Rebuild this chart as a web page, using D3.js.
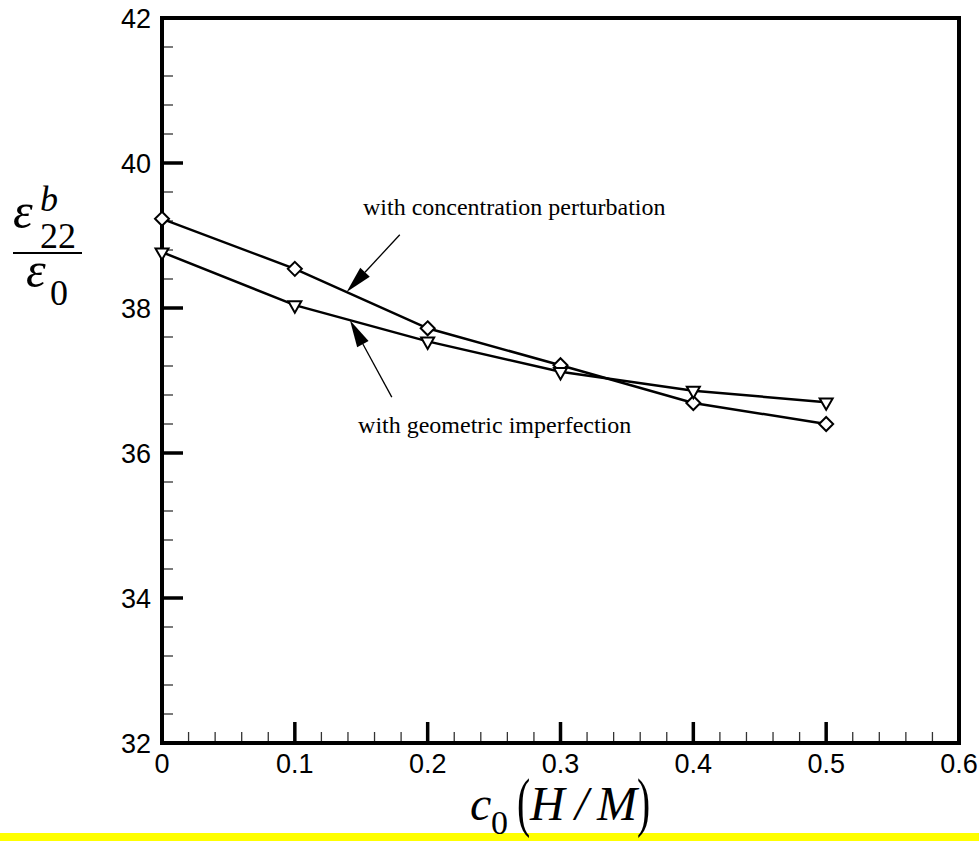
<!DOCTYPE html>
<html>
<head>
<meta charset="utf-8">
<script src="https://cdn.jsdelivr.net/npm/d3@7"></script>
<style>
  html, body { margin: 0; padding: 0; background: #fff; }
  svg { display: block; }
</style>
</head>
<body>
<script>
// ---- data ----
const xValues = [0, 0.1, 0.2, 0.3, 0.4, 0.5];
const concentrationSeries = [39.23, 38.54, 37.72, 37.21, 36.69, 36.40];
const geometricSeries = [38.77, 38.04, 37.54, 37.12, 36.86, 36.70];
const xTickValues = [0, 0.1, 0.2, 0.3, 0.4, 0.5, 0.6];
const xTickLabels = ["0", "0.1", "0.2", "0.3", "0.4", "0.5", "0.6"];
const yTickValues = [32, 34, 36, 38, 40, 42];
const yTickLabels = ["32", "34", "36", "38", "40", "42"];
const annotationTexts = ["with concentration perturbation", "with geometric imperfection"];
// annotation anchor points in data units: [textX, textY, lineStartX, lineStartY, tipX, tipY]
const annotationAnchors = [
  [0.1513, 39.28, 0.179, 39.01, 0.139, 38.22],
  [0.1476, 36.28, 0.173, 36.77, 0.1415, 37.83]
];

const W = 979, H = 841;
const svg = d3.select("body").append("svg").attr("width", W).attr("height", H);
svg.append("rect").attr("width", W).attr("height", H).attr("fill", "#fff");
svg.append("rect").attr("x", 0).attr("y", 833).attr("width", W).attr("height", H - 833).attr("fill", "#ffff00");

const x = d3.scaleLinear().domain([0, 0.6]).range([162, 959]);
const y = d3.scaleLinear().domain([32, 42]).range([743, 18]);

const g = svg.append("g");

// minor ticks
const xMinor = d3.range(0, 0.6001, 0.02).filter(v => Math.abs(v * 10 - Math.round(v * 10)) > 1e-6);
const yMinor = d3.range(32, 42.001, 0.4).filter(v => Math.abs(v / 2 - Math.round(v / 2)) > 1e-6);

g.selectAll(".xminor").data(xMinor).enter().append("line")
  .attr("x1", d => x(d)).attr("x2", d => x(d))
  .attr("y1", y(32)).attr("y2", y(32) - 11)
  .attr("stroke", "#333").attr("stroke-width", 1.3);
g.selectAll(".yminor").data(yMinor).enter().append("line")
  .attr("x1", x(0)).attr("x2", x(0) + 11)
  .attr("y1", d => y(d)).attr("y2", d => y(d))
  .attr("stroke", "#333").attr("stroke-width", 1.3);

// major ticks
g.selectAll(".xmajor").data(xTickValues).enter().append("line")
  .attr("x1", d => x(d)).attr("x2", d => x(d))
  .attr("y1", y(32)).attr("y2", y(32) - 21)
  .attr("stroke", "#000").attr("stroke-width", 3.5);
g.selectAll(".ymajor").data(yTickValues).enter().append("line")
  .attr("x1", x(0)).attr("x2", x(0) + 21)
  .attr("y1", d => y(d)).attr("y2", d => y(d))
  .attr("stroke", "#000").attr("stroke-width", 3.5);

// frame
g.append("rect")
  .attr("x", x(0)).attr("y", y(42))
  .attr("width", x(0.6) - x(0)).attr("height", y(32) - y(42))
  .attr("fill", "none").attr("stroke", "#000").attr("stroke-width", 4);

// tick labels
g.selectAll(".xlab").data(xTickValues).enter().append("text")
  .attr("x", d => x(d)).attr("y", y(32) + 30)
  .attr("text-anchor", "middle")
  .attr("font-family", "Liberation Sans, Arial, sans-serif").attr("font-size", 27)
  .text((d, i) => xTickLabels[i]);
g.selectAll(".ylab").data(yTickValues).enter().append("text")
  .attr("x", x(0) - 11).attr("y", d => y(d) + 9.5)
  .attr("text-anchor", "end")
  .attr("font-family", "Liberation Sans, Arial, sans-serif").attr("font-size", 27)
  .text((d, i) => yTickLabels[i]);

// series lines
const line = d3.line().x(d => x(d[0])).y(d => y(d[1]));
const concPts = xValues.map((v, i) => [v, concentrationSeries[i]]);
const geomPts = xValues.map((v, i) => [v, geometricSeries[i]]);
g.append("path").attr("d", line(concPts)).attr("fill", "none").attr("stroke", "#000").attr("stroke-width", 2.5);
g.append("path").attr("d", line(geomPts)).attr("fill", "none").attr("stroke", "#000").attr("stroke-width", 2.5);

// markers
const diamond = "M0,-7L7,0L0,7L-7,0Z";
const triDown = "M-6.5,-3.8L6.5,-3.8L0,7.6Z";
g.selectAll(".dia").data(concPts).enter().append("path")
  .attr("d", diamond).attr("transform", d => `translate(${x(d[0])},${y(d[1])})`)
  .attr("fill", "#fff").attr("stroke", "#000").attr("stroke-width", 2);
g.selectAll(".tri").data(geomPts).enter().append("path")
  .attr("d", triDown).attr("transform", d => `translate(${x(d[0])},${y(d[1])})`)
  .attr("fill", "#fff").attr("stroke", "#000").attr("stroke-width", 2);

// annotations
annotationAnchors.forEach((a, i) => {
  const sx = x(a[2]), sy = y(a[3]), tx = x(a[4]), ty = y(a[5]);
  const ang = Math.atan2(ty - sy, tx - sx);
  const len = 27, hw = 6.5;
  const bx = tx - len * Math.cos(ang), by = ty - len * Math.sin(ang);
  const px = -Math.sin(ang) * hw, py = Math.cos(ang) * hw;
  g.append("line").attr("x1", sx).attr("y1", sy).attr("x2", bx).attr("y2", by)
    .attr("stroke", "#000").attr("stroke-width", 1.3);
  g.append("path")
    .attr("d", `M${tx},${ty}L${bx + px},${by + py}L${bx - px},${by - py}Z`)
    .attr("fill", "#000");
  g.append("text").attr("x", x(a[0])).attr("y", y(a[1]))
    .attr("font-family", "Liberation Serif, Times New Roman, serif").attr("font-size", 24)
    .text(annotationTexts[i]);
});

// y-axis label: epsilon^b_22 / epsilon_0
const serif = "Liberation Serif, Times New Roman, serif";
const yl = svg.append("g");
yl.append("text").attr("x", 13).attr("y", 228).attr("font-family", serif).attr("font-style", "italic").attr("font-size", 50).text("ε");
yl.append("text").attr("x", 40).attr("y", 211).attr("font-family", serif).attr("font-style", "italic").attr("font-size", 36).text("b");
yl.append("text").attr("x", 40).attr("y", 248).attr("font-family", serif).attr("font-size", 36).text("22");
yl.append("line").attr("x1", 13).attr("x2", 82).attr("y1", 253).attr("y2", 253).attr("stroke", "#000").attr("stroke-width", 2);
yl.append("text").attr("x", 26).attr("y", 287).attr("font-family", serif).attr("font-style", "italic").attr("font-size", 50).text("ε");
yl.append("text").attr("x", 50).attr("y", 305).attr("font-family", serif).attr("font-size", 36).text("0");

// x-axis label: c_0 (H / M)
const xl = svg.append("g");
xl.append("text").attr("x", 470).attr("y", 820).attr("font-family", serif).attr("font-style", "italic").attr("font-size", 48).text("c");
xl.append("text").attr("x", 491).attr("y", 834).attr("font-family", serif).attr("font-size", 34).text("0");
xl.append("text").attr("transform", "translate(517,824) scale(0.6,1)").attr("font-family", serif).attr("font-size", 66).text("(");
xl.append("text").attr("x", 530).attr("y", 820).attr("font-family", serif).attr("font-style", "italic").attr("font-size", 48).text("H");
xl.append("text").attr("x", 575).attr("y", 820).attr("font-family", serif).attr("font-style", "italic").attr("font-size", 48).text("/");
xl.append("text").attr("x", 597).attr("y", 820).attr("font-family", serif).attr("font-style", "italic").attr("font-size", 48).text("M");
xl.append("text").attr("transform", "translate(637,824) scale(0.6,1)").attr("font-family", serif).attr("font-size", 66).text(")");
</script>
</body>
</html>
